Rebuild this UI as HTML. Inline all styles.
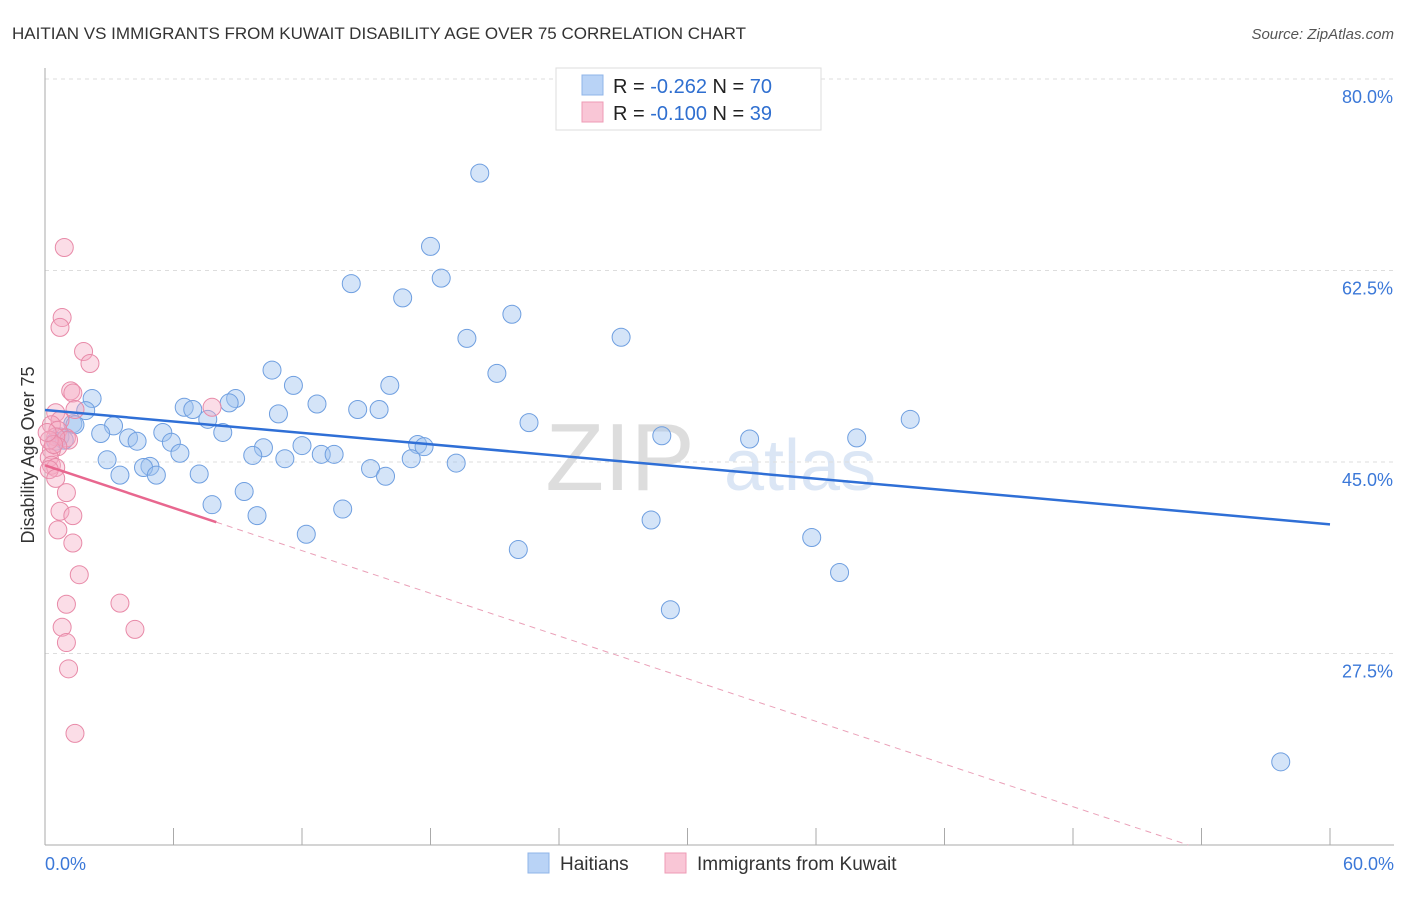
<!DOCTYPE html>
<html><head><meta charset="utf-8"><style>
body{margin:0;background:#fff;font-family:"Liberation Sans",sans-serif}
svg text{font-family:"Liberation Sans",sans-serif}
</style></head><body>
<svg id="c" width="1406" height="892">
<text x="12" y="39" font-size="17" fill="#333">HAITIAN VS IMMIGRANTS FROM KUWAIT DISABILITY AGE OVER 75 CORRELATION CHART</text>
<text x="1394" y="39" font-size="15" fill="#555" text-anchor="end" font-style="italic">Source: ZipAtlas.com</text>
<text x="620" y="490" font-size="96" fill="#ddd" font-family="Liberation Serif" text-anchor="middle">ZIP</text>
<text x="800" y="490" font-size="72" fill="#dbe6f5" text-anchor="middle">atlas</text>
<g id="grid"></g><g id="axes"></g><g id="pts"></g><g id="trend"></g>
<text transform="translate(34,455) rotate(-90)" font-size="18" fill="#333" text-anchor="middle">Disability Age Over 75</text>
<g>
<rect x="556" y="68" width="265" height="62" fill="#fff" stroke="#ddd"/>
<rect x="582" y="75" width="21" height="20" fill="#b9d3f6" stroke="#8fb4e8"/>
<rect x="582" y="102" width="21" height="20" fill="#f9c6d6" stroke="#ee9bb5"/>
<text x="613" y="93" font-size="20" fill="#222">R = <tspan fill="#2f6fd0">-0.262</tspan>   N = <tspan fill="#2f6fd0">70</tspan></text>
<text x="613" y="120" font-size="20" fill="#222">R = <tspan fill="#2f6fd0">-0.100</tspan>   N = <tspan fill="#2f6fd0"> 39</tspan></text>
</g>
<g>
<rect x="528" y="853" width="21" height="20" fill="#b9d3f6" stroke="#8fb4e8"/>
<text x="560" y="870" font-size="19" fill="#333">Haitians</text>
<rect x="665" y="853" width="21" height="20" fill="#f9c6d6" stroke="#ee9bb5"/>
<text x="697" y="870" font-size="19" fill="#333">Immigrants from Kuwait</text>
</g>
</svg>
<script>
const yTicks=[80,62.5,45,27.5];
const xTickVals=[0,6,12,18,24,30,36,42,48,54,60];
const haitiansX=[20.3,18.0,18.5,14.3,16.7,21.8,19.7,26.9,10.6,21.1,11.6,16.1,2.2,8.9,8.6,6.5,6.9,12.7,14.6,15.6,1.9,10.9,7.6,40.4,22.6,3.2,1.3,2.6,8.3,5.5,3.9,4.3,28.8,32.9,37.9,5.9,17.4,17.7,12.0,10.2,6.3,9.7,12.9,13.5,11.2,17.1,2.9,19.2,4.9,4.6,15.2,15.9,3.5,5.2,7.2,9.3,7.8,13.9,9.9,28.3,12.2,22.1,35.8,37.1,29.2,57.7,0.7,0.5,0.9,1.4];
const haitiansY=[71.4,64.7,61.8,61.3,60.0,58.5,56.3,56.4,53.4,53.1,52.0,52.0,50.8,50.8,50.4,50.0,49.8,50.3,49.8,49.8,49.7,49.4,48.9,48.9,48.6,48.3,48.5,47.6,47.7,47.7,47.2,46.9,47.4,47.1,47.2,46.8,46.6,46.4,46.5,46.3,45.8,45.6,45.7,45.7,45.3,45.3,45.2,44.9,44.6,44.5,44.4,43.7,43.8,43.8,43.9,42.3,41.1,40.7,40.1,39.7,38.4,37.0,38.1,34.9,31.5,17.6,47.3,46.9,47.0,48.4];
const kuwaitX=[0.9,0.8,0.7,1.8,2.1,1.2,1.3,1.4,7.8,0.5,0.7,0.3,0.6,1.0,1.1,0.5,0.6,0.3,0.2,0.3,0.5,0.2,0.5,1.0,0.7,1.3,0.6,1.3,1.6,1.0,3.5,0.8,4.2,1.0,1.1,1.4,0.2,0.4,0.1];
const kuwaitY=[64.6,58.2,57.3,55.1,54.0,51.5,51.3,49.8,50.0,49.5,48.8,48.4,47.9,47.2,47.0,47.3,46.4,46.1,45.4,44.7,44.5,44.3,43.5,42.2,40.5,40.1,38.8,37.6,34.7,32.0,32.1,29.9,29.7,28.5,26.1,20.2,47.0,46.6,47.7];
const haitiansTrend=[49.75,39.3];   // value at x=0 and x=60
const kuwaitTrend=[44.7,-0.65];     // intercept, slope
const NS='http://www.w3.org/2000/svg';
const X=v=>45+v*1285/60, Y=v=>462-(v-45)*191.5/17.5;
function mk(t,a,p){const e=document.createElementNS(NS,t);for(const k in a)e.setAttribute(k,a[k]);p.appendChild(e);return e;}
const grid=document.getElementById('grid'),axes=document.getElementById('axes'),pts=document.getElementById('pts'),tr=document.getElementById('trend');
yTicks.forEach(v=>{const l=mk('line',{x1:45,x2:1394,y1:Y(v),y2:Y(v),stroke:'#ddd','stroke-dasharray':'4 4'},grid);


const t=mk('text',{x:1393,y:Y(v)+24,'font-size':18,fill:'#3b78d8','text-anchor':'end'},grid);t.textContent=v.toFixed(1)+'%';

});
const ax=mk('line',{x1:45,x2:1394,y1:845,y2:845,stroke:'#aaa'},axes);


const ay=mk('line',{x1:45,x2:45,y1:68,y2:845,stroke:'#aaa'},axes);


xTickVals.forEach(v=>{const l=mk('line',{x1:X(v),x2:X(v),y1:828,y2:845,stroke:'#aaa'},axes);

});
[[0,'start',45],[60,'end',1394]].forEach(([v,a,x])=>{const t=mk('text',{x:x,y:870,'font-size':18,fill:'#3b78d8','text-anchor':a},axes);t.textContent=v.toFixed(1)+'%';

});
haitiansX.forEach((v,i)=>{const c=mk('circle',{cx:X(v),cy:Y(haitiansY[i]),r:9,fill:'rgba(160,196,240,0.45)',stroke:'#6f9fe0','stroke-width':1},pts);

});
kuwaitX.forEach((v,i)=>{const c=mk('circle',{cx:X(v),cy:Y(kuwaitY[i]),r:9,fill:'rgba(245,170,195,0.4)',stroke:'#e88aa8','stroke-width':1},pts);

});
const bt=mk('line',{x1:X(0),y1:Y(haitiansTrend[0]),x2:X(60),y2:Y(haitiansTrend[1]),stroke:'#2f6fd6','stroke-width':2.5},tr);


const kf=x=>kuwaitTrend[0]+kuwaitTrend[1]*x;
const ks=mk('line',{x1:X(0),y1:Y(kf(0)),x2:X(8),y2:Y(kf(8)),stroke:'#e8678f','stroke-width':2.5},tr);


const xe=(10-kuwaitTrend[0])/kuwaitTrend[1];
const kd=mk('line',{x1:X(8),y1:Y(kf(8)),x2:X(xe),y2:Y(10),stroke:'#eaa0b8','stroke-width':1,'stroke-dasharray':'6 5'},tr);


</script>
</body></html>
